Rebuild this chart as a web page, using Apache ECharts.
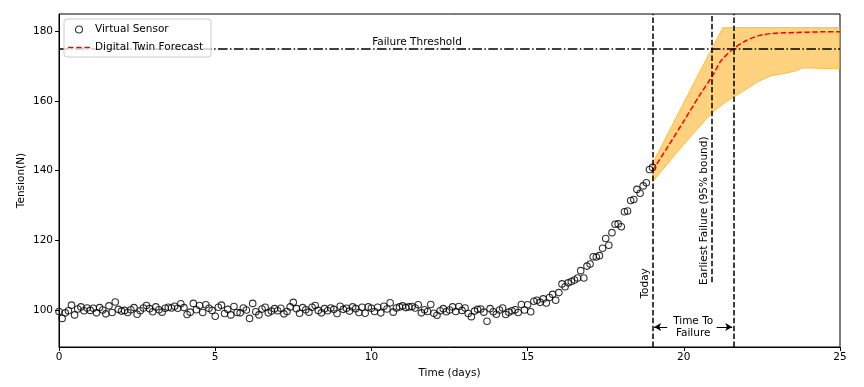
<!DOCTYPE html>
<html>
<head>
<meta charset="utf-8">
<script src="https://cdn.jsdelivr.net/npm/echarts@6/dist/echarts.min.js"></script>
<style>
html,body{margin:0;padding:0;background:#fff;}
#main{width:864px;height:387px;}
</style>
</head>
<body>
<div id="main"></div>
<script>
// ---------------- data ----------------
const sensorStart = 0;      // first sensor day
const sensorStep = 0.1;     // days between sensor readings
const sensorValues = [
  99.6, 97.6, 99.2, 99.8, 101.4, 98.6, 100.3, 100.9, 99.8, 100.6,
  99.9, 100.5, 99.2, 100.7, 100.0, 98.9, 101.2, 99.3, 102.3, 100.2,
  99.7, 99.9, 99.3, 100.1, 100.7, 98.8, 99.8, 100.6, 101.3, 100.4,
  99.5, 100.9, 100.1, 99.4, 100.5, 100.8, 100.6, 101.1, 100.5, 101.8,
  100.7, 98.7, 99.4, 101.9, 100.1, 101.3, 99.3, 101.5, 100.5, 99.9,
  98.2, 100.8, 101.4, 99.0, 100.2, 98.6, 101.0, 99.3, 99.2, 100.6,
  100.0, 97.6, 101.9, 99.5, 98.6, 100.3, 100.8, 99.2, 99.7, 100.4,
  99.8, 100.5, 98.9, 99.6, 100.9, 102.2, 100.4, 99.1, 100.7, 100.1,
  99.4, 100.8, 101.3, 99.9, 99.2, 100.4, 99.8, 100.6, 100.2, 99.0,
  101.1, 100.2, 100.5, 99.7, 100.9, 100.4, 99.3, 100.8, 99.1, 100.9,
  100.5, 99.6, 100.8, 99.2, 101.1, 100.3, 102.1, 99.4, 100.6, 100.9,
  101.2, 100.7, 100.9, 101.0, 100.6, 101.5, 99.2, 100.1, 99.6, 101.6,
  99.1, 98.5, 99.8, 100.4, 99.5, 100.0, 100.9, 99.6, 101.0, 99.9,
  100.6, 99.0, 98.1, 99.7, 100.2, 100.3, 99.4, 96.8, 100.4, 99.5,
  98.8, 100.0, 100.6, 98.7, 99.4, 99.8, 100.1, 99.3, 101.6, 100.0,
  101.5, 99.5, 102.5, 102.8, 102.2, 103.2, 102.0, 103.6, 104.5, 102.8,
  105.0, 107.5, 106.7, 107.8, 108.2, 108.6, 109.2, 111.3, 109.2, 112.6,
  113.2, 115.3, 115.2, 115.6, 117.7, 120.5, 118.6, 122.2, 124.6, 124.7,
  123.9, 128.2, 128.4, 131.4, 131.7, 134.6, 133.5, 135.6, 136.5, 140.3,
  140.9
];

const forecastDays   = [19, 19.5, 20, 20.5, 20.9, 21.2, 21.6, 22, 22.4, 22.8, 23.2, 23.6, 24, 24.5, 25];
const forecastValues = [140, 147, 154.2, 161.5, 166.9, 171.6, 175, 177.3, 178.7, 179.3, 179.5, 179.6, 179.7, 179.8, 179.8];

const bandDays  = [19, 19.5, 20, 20.5, 20.9, 21.25, 21.6, 22, 22.4, 22.8, 23.2, 23.6, 23.8, 24, 24.5, 25];
const bandLower = [136.7, 142.2, 147.5, 152.6, 156.5, 159.0, 161.1, 163.3, 165.6, 167.2, 167.8, 168.6, 169.4, 169.4, 169.3, 169.2];
const bandUpper = [142.1, 150.8, 159.5, 168.2, 175.0, 181.0, 181.0, 181.0, 181.0, 181.0, 181.0, 181.0, 181.0, 181.0, 181.0, 181.0];

const failureThreshold = 175;
const todayDay = 19;
const earliestFailureDay = 20.9;
const earliestFailureLineBottom = 108;
const predictedFailureDay = 21.6;

const xTicks = [0, 5, 10, 15, 20, 25];
const yTicks = [100, 120, 140, 160, 180];
const xMin = 0, xMax = 25;
const yMin = 89.4, yMax = 184.9;

// ---------------- chart ----------------
const FONT = 'DejaVu Sans';
const chart = echarts.init(document.getElementById('main'), null, {renderer: 'canvas'});

const sensorData = sensorValues.map((v, i) => [+(sensorStart + i * sensorStep).toFixed(2), v]);
const forecastData = forecastDays.map((d, i) => [d, forecastValues[i]]);
const bandData = bandDays.map((d, i) => [d, bandLower[i], bandUpper[i]]);

const dashed = {color: '#000', width: 1.5, type: [5.5, 2.4]};
const arrowY = 95.1;

const dashIcon = 'path://M0,0 L0.05,0 L0.05,0.05 Z M0,7 L0.05,7 L0.05,6.95 Z M0,2.8 H5.5 V4.2 H0 Z M8.2,2.8 H13.7 V4.2 H8.2 Z M16.4,2.8 H22 V4.2 H16.4 Z';

const option = {
  animation: false,
  backgroundColor: '#fff',
  textStyle: {fontFamily: FONT},
  grid: {left: 59, right: 24, top: 14, bottom: 40, show: true, borderColor: '#000', borderWidth: 1, backgroundColor: 'transparent'},
  legend: {
    z: 20,
    left: 64, top: 19, orient: 'vertical',
    data: [
      {name: 'Virtual Sensor', icon: 'circle', itemStyle: {color: '#fff', borderColor: '#000', borderWidth: 1.1}},
      {name: 'Digital Twin Forecast', icon: dashIcon, itemStyle: {color: '#ff0000', borderWidth: 0}}
    ],
    itemWidth: 22, itemHeight: 7, itemGap: 7,
    padding: [5, 8, 4, 4],
    backgroundColor: 'rgba(255,255,255,0.8)',
    borderColor: '#cccccc', borderWidth: 1, borderRadius: 3,
    textStyle: {fontFamily: FONT, fontSize: 10.5, color: '#000'}
  },
  xAxis: {
    type: 'value', min: xMin, max: xMax, interval: 5,
    name: 'Time (days)', nameLocation: 'middle', nameGap: 21,
    nameTextStyle: {fontFamily: FONT, fontSize: 10.5, color: '#000'},
    axisLine: {show: true, lineStyle: {color: '#000', width: 1}},
    axisTick: {show: true, length: 4, lineStyle: {color: '#000'}},
    axisLabel: {fontFamily: FONT, fontSize: 10.5, color: '#000', margin: 5},
    splitLine: {show: false}
  },
  yAxis: {
    type: 'value', min: yMin, max: yMax,
    axisLine: {show: true, lineStyle: {color: '#000', width: 1}},
    axisTick: {show: true, length: 4, lineStyle: {color: '#000'}, customValues: yTicks},
    axisLabel: {fontFamily: FONT, fontSize: 10.5, color: '#000', margin: 6, customValues: yTicks},
    splitLine: {show: false}
  },
  series: [
    {
      name: 'band', type: 'custom', data: bandData, silent: true, z: 1, clip: true,
      encode: {x: 0, y: [1, 2]},
      renderItem: function (params, api) {
        if (params.dataIndex !== 0) return null;
        const pts = [];
        for (let i = 0; i < bandDays.length; i++) pts.push(api.coord([bandDays[i], bandUpper[i]]));
        for (let i = bandDays.length - 1; i >= 0; i--) pts.push(api.coord([bandDays[i], bandLower[i]]));
        return {
          type: 'polygon', shape: {points: pts},
          style: {fill: 'rgba(255,165,0,0.5)', stroke: 'rgba(255,165,0,0.6)', lineWidth: 1}
        };
      }
    },
    {
      name: 'Virtual Sensor', type: 'scatter', data: sensorData,
      symbol: 'circle', symbolSize: 6.5, z: 2,
      itemStyle: {color: 'rgba(255,255,255,0)', borderColor: '#000', borderWidth: 1.1}
    },
    {
      name: 'Digital Twin Forecast', type: 'line', data: forecastData,
      symbol: 'none', smooth: 0.25, z: 3,
      lineStyle: {color: '#ff0000', width: 1.5, type: [5.5, 2.4]},
      itemStyle: {color: '#ff0000'},
      markLine: {
        silent: true, animation: false, symbol: ['none', 'none'],
        label: {show: false},
        data: [
          {yAxis: failureThreshold, lineStyle: {color: '#000', width: 1.5, type: [9.6, 2.4, 1.5, 2.4]}},
          {xAxis: todayDay, lineStyle: dashed},
          [{coord: [earliestFailureDay, earliestFailureLineBottom], lineStyle: dashed}, {coord: [earliestFailureDay, yMax]}],
          {xAxis: predictedFailureDay, lineStyle: dashed},
          [{coord: [todayDay + 0.05, arrowY], symbol: 'arrow', symbolSize: [6, 7], lineStyle: {color: '#000', width: 1, type: 'solid'}},
           {coord: [todayDay + 0.47, arrowY], symbol: 'none'}],
          [{coord: [predictedFailureDay - 0.55, arrowY], symbol: 'none', lineStyle: {color: '#000', width: 1, type: 'solid'}},
           {coord: [predictedFailureDay - 0.05, arrowY], symbol: 'arrow', symbolSize: [6, 7]}]
        ]
      }
    }
  ]
};
chart.setOption(option);

// text annotations placed through the chart's own coordinate conversion
function px(x, y) { return chart.convertToPixel({gridIndex: 0}, [x, y]); }
const font = '10.5px "' + FONT + '"';
const pThr = px(11.46, failureThreshold);
const pToday = px(todayDay, 103.3);
const pEarly = px(earliestFailureDay, 107.2);
const pTTF = px((todayDay + predictedFailureDay) / 2, arrowY);
const pYName = px(xMin, (yMin + yMax) / 2);
chart.setOption({
  graphic: [
    {type: 'text', x: pYName[0] - 38, y: pYName[1], rotation: Math.PI / 2, style: {text: 'Tension(N)', font: font, fill: '#000', textAlign: 'center', textVerticalAlign: 'middle'}, z: 10},
    {type: 'text', x: pThr[0], y: pThr[1] - 1, style: {text: 'Failure Threshold', font: font, fill: '#000', textAlign: 'center', textVerticalAlign: 'bottom'}, z: 10},
    {type: 'text', x: pToday[0] - 2, y: pToday[1], rotation: Math.PI / 2, style: {text: 'Today', font: font, fill: '#000', textAlign: 'left', textVerticalAlign: 'bottom'}, z: 10},
    {type: 'text', x: pEarly[0] - 2, y: pEarly[1], rotation: Math.PI / 2, style: {text: 'Earliest Failure (95% bound)', font: font, fill: '#000', textAlign: 'left', textVerticalAlign: 'bottom'}, z: 10},
    {type: 'text', x: pTTF[0], y: pTTF[1], style: {text: 'Time To\nFailure', font: font, fill: '#000', textAlign: 'center', textVerticalAlign: 'middle', lineHeight: 12}, z: 10}
  ]
});
</script>
</body>
</html>
